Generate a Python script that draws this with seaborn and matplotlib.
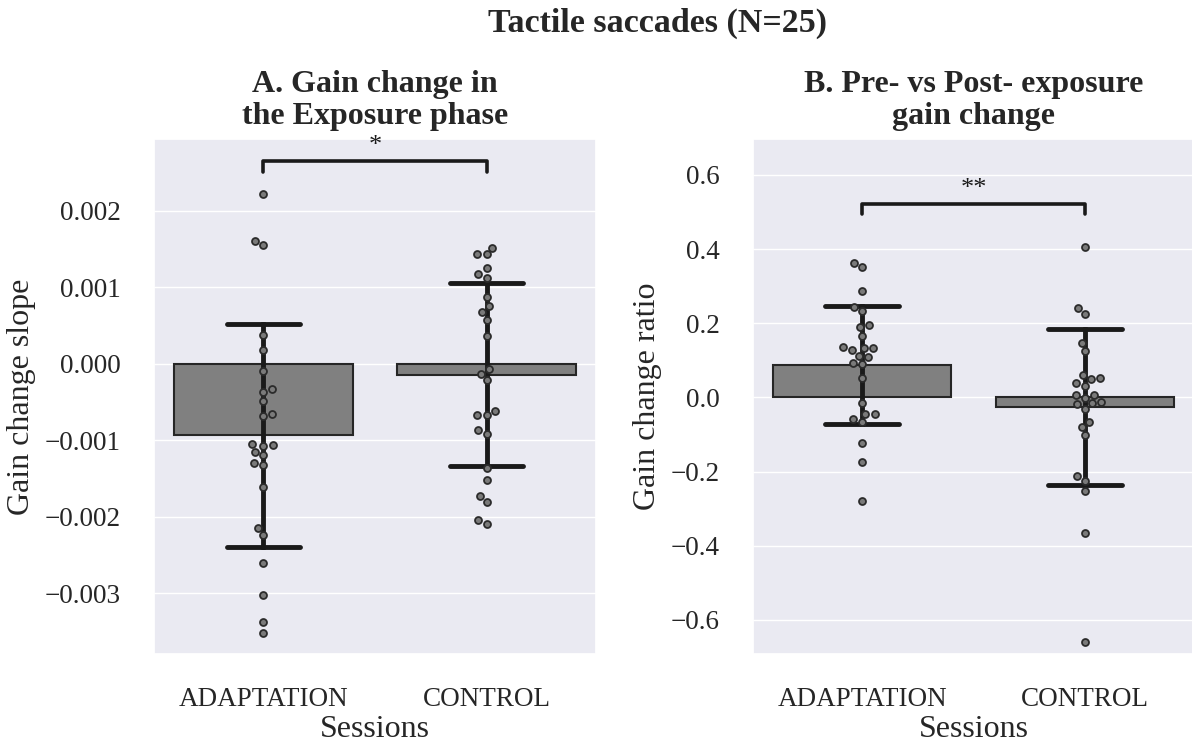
import numpy as np
import pandas as pd
import matplotlib
matplotlib.use("Agg")
import matplotlib.pyplot as plt
import seaborn as sns

# ---------------- data ----------------
sessions = ["ADAPTATION", "CONTROL"]

slope_adaptation = [0.00222, 0.001605, 0.00155, 0.000372, 0.00018, -0.000096,
                    -0.000337, -0.000372, -0.000494, -0.000652, -0.00069,
                    -0.00105, -0.00106, -0.00107, -0.00116, -0.00119, -0.0013,
                    -0.00132, -0.00161, -0.00215, -0.00224, -0.00261, -0.00302,
                    -0.00338, -0.00352]
slope_control = [0.001518, 0.00143, 0.00143, 0.001247, 0.001168, 0.001124,
                 0.000866, 0.000752, 0.000673, 0.000573, 0.000367, -0.00007,
                 -0.000131, -0.000219, -0.000617, -0.000674, -0.000674,
                 -0.000866, -0.000915, -0.00136, -0.00152, -0.001736, -0.00181,
                 -0.00204, -0.00209]

ratio_adaptation = [0.363, 0.352, 0.286, 0.245, 0.233, 0.194, 0.189, 0.166,
                    0.136, 0.132, 0.132, 0.129, 0.113, 0.110, 0.093, 0.091,
                    0.052, -0.014, -0.045, -0.045, -0.059, -0.067, -0.123,
                    -0.174, -0.278]
ratio_control = [0.405, 0.242, 0.226, 0.146, 0.124, 0.061, 0.053, 0.049, 0.040,
                 0.031, 0.007, 0.007, -0.001, -0.013, -0.016, -0.018, -0.030,
                 -0.066, -0.080, -0.102, -0.212, -0.225, -0.253, -0.365, -0.660]

sig_labels = ["*", "**"]
sig_levels = [0.00265, 0.523]
sig_drops = [0.00014, 0.027]

suptitle = "Tactile saccades (N=25)"
titles = ["A. Gain change in\nthe Exposure phase", "B. Pre- vs Post- exposure\ngain change"]
ylabels = ["Gain change slope", "Gain change ratio"]
xlabel = "Sessions"

df_a = pd.DataFrame({"Sessions": [sessions[0]] * len(slope_adaptation) + [sessions[1]] * len(slope_control),
                     "value": slope_adaptation + slope_control})
df_b = pd.DataFrame({"Sessions": [sessions[0]] * len(ratio_adaptation) + [sessions[1]] * len(ratio_control),
                     "value": ratio_adaptation + ratio_control})

# ---------------- style ----------------
sns.set_theme(style="darkgrid")
plt.rcParams["font.family"] = ["Liberation Serif", "DejaVu Serif"]
plt.rcParams["axes.unicode_minus"] = True

fig = plt.figure(figsize=(11.92, 7.42), dpi=100)
H = 742.0
W = 1192.0
bottom = 1 - 654 / H
height = (654 - 139) / H
ax_a = fig.add_axes([154 / W, bottom, 442 / W, height])
ax_b = fig.add_axes([753 / W, bottom, 441 / W, height])

ylims = [(-0.003795, 0.002937), (-0.692, 0.697)]
yticks = [[-0.003, -0.002, -0.001, 0.0, 0.001, 0.002],
          [-0.6, -0.4, -0.2, 0.0, 0.2, 0.4, 0.6]]

for i, (ax, df) in enumerate([(ax_a, df_a), (ax_b, df_b)]):
    sns.barplot(data=df, x="Sessions", y="value", order=sessions, ax=ax,
                color="#808080", saturation=1, errorbar="sd", capsize=0.33,
                edgecolor="#262626", linewidth=1.5,
                err_kws={"color": "#1a1a1a", "linewidth": 3.5})
    sns.swarmplot(data=df, x="Sessions", y="value", order=sessions, ax=ax,
                  color="#7a7a7a", edgecolor="#2b2b2b", linewidth=1.3, size=5.0)
    ax.set_ylim(*ylims[i])
    ax.set_yticks(yticks[i])
    if i == 0:
        ax.set_yticklabels([f"{v:.3f}".replace("-", "\u2212") for v in yticks[i]])
    else:
        ax.set_yticklabels([f"{v:.1f}".replace("-", "\u2212") for v in yticks[i]])
    ax.set_xlim(-0.49, 1.49)
    ax.tick_params(axis="both", labelsize=19.5, pad=18)
    ax.set_xlabel(xlabel, fontsize=23, labelpad=2)
    ax.set_ylabel(ylabels[i], fontsize=23, labelpad=6)
    ax.set_title(titles[i], fontsize=23, fontweight="bold", pad=11, linespacing=1.12)

    # significance bracket
    y = sig_levels[i]
    d = sig_drops[i]
    ax.plot([0, 0, 1, 1], [y - d, y, y, y - d], color="#1a1a1a", lw=2.6,
            solid_capstyle="round", solid_joinstyle="round", zorder=5)
    ax.text(0.5, y + d * 0.35, sig_labels[i], ha="center", va="bottom",
            fontsize=19, color="#1a1a1a")

fig.text(657 / W, 1 - 23 / H, suptitle, ha="center", va="center",
         fontsize=24.5, fontweight="bold")

fig.savefig("out.png", dpi=100)
